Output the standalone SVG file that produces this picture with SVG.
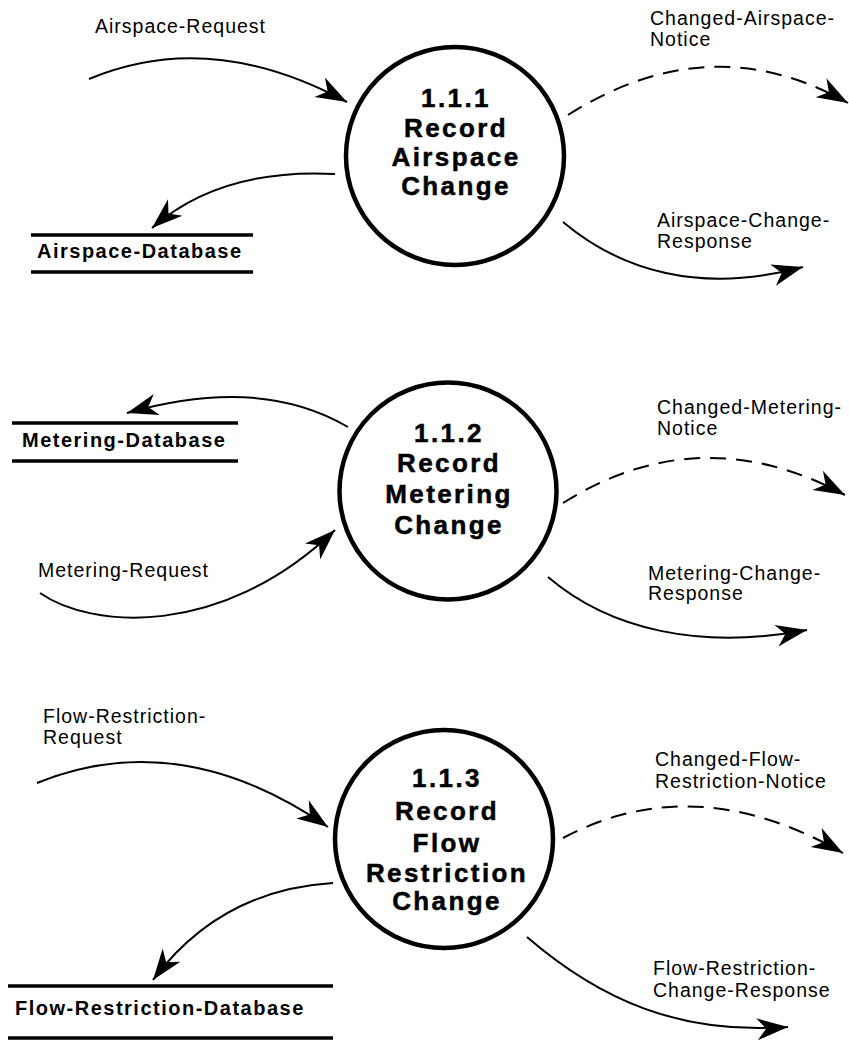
<svg xmlns="http://www.w3.org/2000/svg" width="849" height="1043" viewBox="0 0 849 1043">
<style>
.proc{fill:none;stroke:#000;stroke-width:4.5}
.pt{font-family:"Liberation Sans",Arial,sans-serif;font-weight:bold;font-size:26px;letter-spacing:2.4px;text-anchor:middle;fill:#000;stroke:#000;stroke-width:0.5}
.lbl{font-family:"Liberation Sans",Arial,sans-serif;font-size:19.5px;letter-spacing:1px;fill:#000}
.db{font-family:"Liberation Sans",Arial,sans-serif;font-weight:bold;font-size:20px;letter-spacing:1.5px;fill:#000}
.dbl{stroke:#000;stroke-width:3.5}
.flow{fill:none;stroke:#000;stroke-width:2;marker-end:url(#ah)}
.dash{stroke-dasharray:16 10}
</style>
<defs>
<marker id="ah" markerUnits="userSpaceOnUse" viewBox="-33 -12 35 24" refX="0" refY="0" markerWidth="35" markerHeight="24" orient="auto">
<path d="M0,0 L-31,-11 L-22,0 L-31,11 Z" fill="#000"/>
</marker>
</defs>
<g id="connectors">
<path class="flow" d="M89,79 Q210,28 347,102"/>
<path class="flow" d="M335,174 Q220,168 152,228"/>
<path class="flow dash" d="M568,115 Q710,25 848,103"/>
<path class="flow" d="M563,222 C620,270 700,295 803,267"/>
<path class="flow" d="M348,427 Q260,375 127,413"/>
<path class="flow" d="M40,593 C90,628 220,640 335,530"/>
<path class="flow dash" d="M563,503 Q700,417 845,495"/>
<path class="flow" d="M548,577 C610,630 700,650 807,630"/>
<path class="flow" d="M37,783 Q180,725 328,827"/>
<path class="flow" d="M333,883 Q220,890 153,980"/>
<path class="flow dash" d="M563,838 Q695,768 843,853"/>
<path class="flow" d="M527,937 C600,1000 680,1035 788,1027"/>
</g>
<g id="p111">
<circle class="proc" cx="455" cy="156" r="109"/>
<text class="pt" x="456" y="107">1.1.1</text>
<text class="pt" x="456" y="137">Record</text>
<text class="pt" x="456" y="166">Airspace</text>
<text class="pt" x="456" y="195">Change</text>
</g>
<g id="p112">
<circle class="proc" cx="448" cy="491" r="108.5"/>
<text class="pt" x="449" y="442">1.1.2</text>
<text class="pt" x="449" y="472">Record</text>
<text class="pt" x="449" y="503">Metering</text>
<text class="pt" x="449" y="534">Change</text>
</g>
<g id="p113">
<circle class="proc" cx="444" cy="839" r="109"/>
<text class="pt" x="447" y="787">1.1.3</text>
<text class="pt" x="447" y="820">Record</text>
<text class="pt" x="447" y="852">Flow</text>
<text class="pt" x="447" y="882">Restriction</text>
<text class="pt" x="447" y="910">Change</text>
</g>
<g id="airspace-db">
<line class="dbl" x1="31" y1="235" x2="253" y2="235"/>
<line class="dbl" x1="31" y1="272" x2="253" y2="272"/>
<text class="db" x="37" y="258">Airspace-Database</text>
</g>
<g id="metering-db">
<line class="dbl" x1="12" y1="423" x2="238" y2="423"/>
<line class="dbl" x1="12" y1="461" x2="238" y2="461"/>
<text class="db" x="22" y="447">Metering-Database</text>
</g>
<g id="flow-db">
<line class="dbl" x1="8" y1="986" x2="333" y2="986"/>
<line class="dbl" x1="8" y1="1038" x2="333" y2="1038"/>
<text class="db" x="15" y="1015">Flow-Restriction-Database</text>
</g>
<g id="labels">
<text class="lbl" x="95" y="33">Airspace-Request</text>
<text class="lbl" x="650" y="25">Changed-Airspace-</text>
<text class="lbl" x="650" y="46">Notice</text>
<text class="lbl" x="657" y="227">Airspace-Change-</text>
<text class="lbl" x="657" y="248">Response</text>
<text class="lbl" x="657" y="414">Changed-Metering-</text>
<text class="lbl" x="657" y="435">Notice</text>
<text class="lbl" x="38" y="577">Metering-Request</text>
<text class="lbl" x="648" y="580">Metering-Change-</text>
<text class="lbl" x="648" y="600">Response</text>
<text class="lbl" x="43" y="723">Flow-Restriction-</text>
<text class="lbl" x="43" y="744">Request</text>
<text class="lbl" x="655" y="766">Changed-Flow-</text>
<text class="lbl" x="655" y="788">Restriction-Notice</text>
<text class="lbl" x="653" y="975">Flow-Restriction-</text>
<text class="lbl" x="653" y="997">Change-Response</text>
</g>
</svg>
